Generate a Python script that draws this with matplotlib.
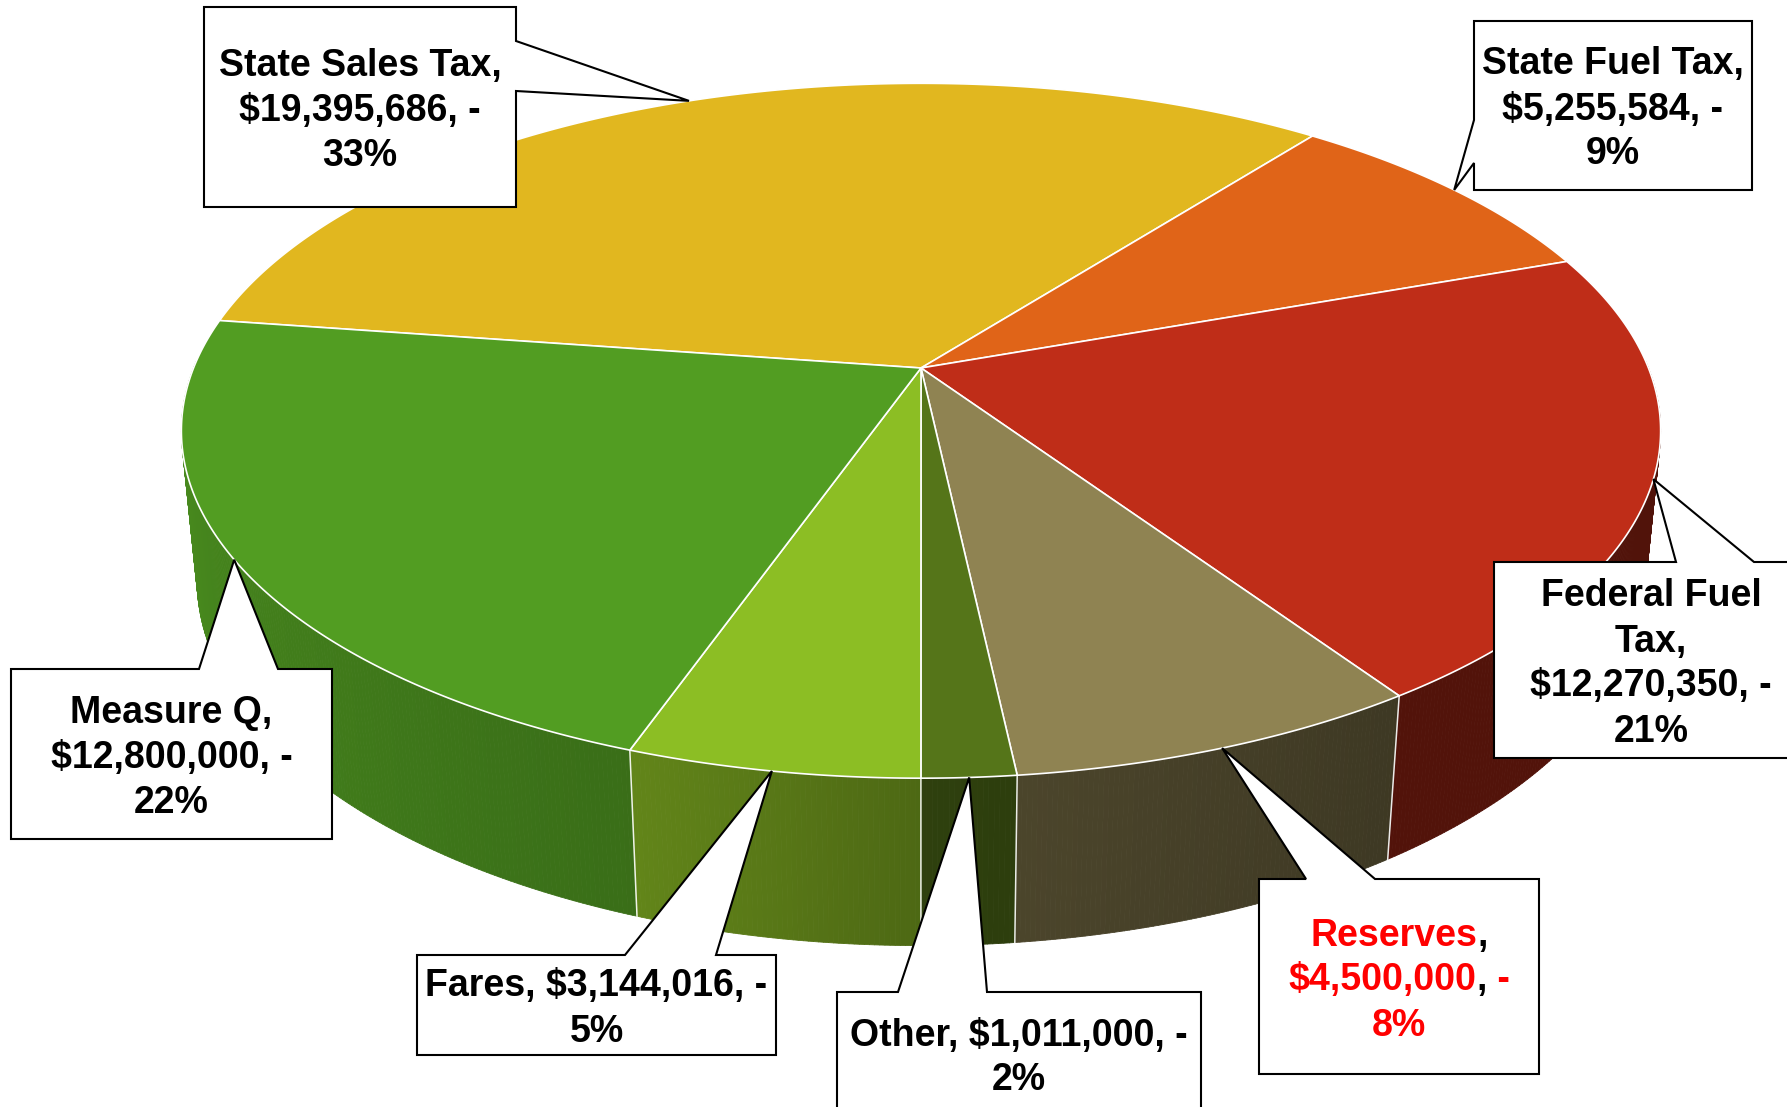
import numpy as np
import matplotlib
matplotlib.use('Agg')
import matplotlib.pyplot as plt
from matplotlib.patches import Polygon
from matplotlib.collections import PolyCollection

# data
labels = ['State Sales Tax', 'State Fuel Tax', 'Federal Fuel Tax', 'Reserves',
          'Other', 'Fares', 'Measure Q']
values = [19395686, 5255584, 12270350, 4500000, 1011000, 3144016, 12800000]
top_colors = ['#E1B71F', '#E06418', '#BF2D18', '#8F8352', '#557519', '#8CBE24', '#529D22']
label_text = [
    'State Sales Tax,\n$19,395,686, -\n33%',
    'State Fuel Tax,\n$5,255,584, -\n9%',
    'Federal Fuel\nTax,\n$12,270,350, -\n21%',
    'Reserves,\n$4,500,000, -\n8%',
    'Other, $1,011,000, -\n2%',
    'Fares, $3,144,016, -\n5%',
    'Measure Q,\n$12,800,000, -\n22%',
]

# callout boxes (x0, y0, x1, y1), side of pointer, pointer base
boxes = [(204, 7, 516, 207), (1474, 21, 1752, 190), (1494, 562, 1808, 758),
         (1259, 879, 1539, 1074), (837, 992, 1201, 1116), (417, 955, 776, 1055),
         (11, 669, 332, 839)]
sides = ['right', 'left', 'top', 'top', 'top', 'top', 'top']
bases = [(41, 91), (120, 163), (1676, 1754), (1306, 1375), (898, 987), (625, 716), (199, 278)]

W, H = 1787, 1107
fig = plt.figure(figsize=(W / 100, H / 100), dpi=100)
ax = fig.add_axes([0, 0, 1, 1])
ax.set_xlim(0, W)
ax.set_ylim(H, 0)
ax.axis('off')

# 3d projection of the pie
cx, cy, k = 921, 368, 3641
kx = k * 0.985
D = 4.93
phi = np.radians(27.07)
sp, cp = np.sin(phi), np.cos(phi)
thick = 0.227
start_angle = 171.67


def proj(t, z):
    t = np.radians(t)
    x, y = np.cos(t), np.sin(t)
    depth = D + y * cp - z * sp
    return cx + kx * x / depth, cy - k * (y * sp + z * cp) / depth


def shade(t):
    u = ((t + 180) % 360) - 180
    return np.interp(u, [-180, -109, -90, -56, 0], [0.92, 0.70, 0.55, 0.43, 0.42])


vals = np.array(values, dtype=float)
cum = np.concatenate([[0], np.cumsum(vals) / vals.sum()])
t_start = start_angle - 360 * cum[:-1]
t_end = start_angle - 360 * cum[1:]

quads, qcols, qkey = [], [], []
for i in range(len(vals)):
    n = max(3, int(abs(t_start[i] - t_end[i]) * 3))
    ts = np.linspace(t_start[i], t_end[i], n)
    base = np.array(matplotlib.colors.to_rgb(top_colors[i]))
    for a, b in zip(ts[:-1], ts[1:]):
        m = (a + b) / 2
        if np.sin(np.radians(m)) > 0.02:
            continue
        p = [proj(a, 0), proj(b, 0), proj(b, -thick), proj(a, -thick)]
        quads.append(p)
        qcols.append(np.clip(base * shade(m), 0, 1))
        qkey.append(np.sin(np.radians(m)))
order = np.argsort(qkey)[::-1]
quads = [quads[j] for j in order]
qcols = [qcols[j] for j in order]
ax.add_collection(PolyCollection(quads, facecolors=qcols, edgecolors=qcols,
                                 linewidths=0.6, zorder=1))

# white edges on the side wall
for t in t_start:
    if np.sin(np.radians(t)) < -0.228:
        x0, y0 = proj(t, 0)
        x1, y1 = proj(t, -thick)
        ax.plot([x0, x1], [y0, y1], color='white', lw=1.1, zorder=2, alpha=0.9)

# top face
for i in range(len(vals)):
    n = max(3, int(abs(t_start[i] - t_end[i]) * 3))
    ts = np.linspace(t_start[i], t_end[i], n)
    xs, ys = proj(ts, 0)
    pts = [(cx, cy)] + list(zip(xs, ys))
    ax.add_patch(Polygon(pts, closed=True, fc=top_colors[i], ec='white', lw=1.2,
                         joinstyle='round', zorder=3))

# callouts
mid = (t_start + t_end) / 2
fontkw = dict(family='Liberation Sans', weight='bold', fontsize=27)
renderer = fig.canvas.get_renderer()


def rich_line(xc, yb, pieces):
    objs, widths = [], []
    for s, c in pieces:
        tx = ax.text(0, yb, s, color=c, ha='left', va='baseline', zorder=6, **fontkw)
        widths.append(tx.get_window_extent(renderer).width)
        objs.append(tx)
    x = xc - sum(widths) / 2
    for tx, w in zip(objs, widths):
        tx.set_x(x)
        x += w


for i in range(len(vals)):
    x0, y0, x1, y1 = boxes[i]
    a, b = bases[i]
    tip = proj(mid[i], 0)
    if sides[i] == 'top':
        pts = [(x0, y0), (a, y0), tip, (b, y0), (x1, y0), (x1, y1), (x0, y1)]
    elif sides[i] == 'right':
        pts = [(x0, y0), (x1, y0), (x1, a), tip, (x1, b), (x1, y1), (x0, y1)]
    else:
        pts = [(x0, y0), (x1, y0), (x1, y1), (x0, y1), (x0, b), tip, (x0, a)]
    ax.add_patch(Polygon(pts, closed=True, fc='white', ec='black', lw=1.5,
                         joinstyle='miter', zorder=5))

    lines = label_text[i].split('\n')
    xc, ycen = (x0 + x1) / 2, (y0 + y1) / 2
    for j, line in enumerate(lines):
        yb = ycen + (j - (len(lines) - 1) / 2) * 45 + 14
        if labels[i] == 'Reserves':
            if line.endswith(','):
                pieces = [(line[:-1], '#FF0000'), (',', 'black')]
            elif line.endswith(', -'):
                pieces = [(line[:-3], '#FF0000'), (',', 'black'), (' -', '#FF0000')]
            else:
                pieces = [(line, '#FF0000')]
            rich_line(xc, yb, pieces)
        else:
            rich_line(xc, yb, [(line, 'black')])

fig.savefig('out.png', dpi=100)
